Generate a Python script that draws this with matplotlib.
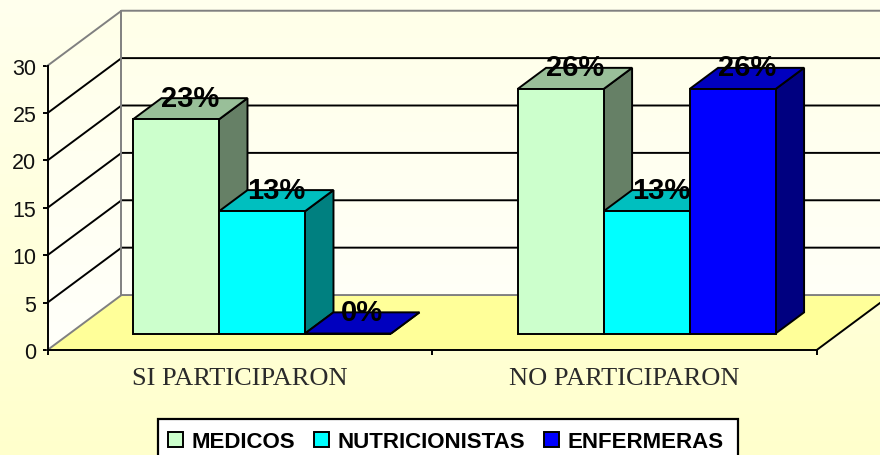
import matplotlib
matplotlib.use('Agg')
import matplotlib.pyplot as plt
import numpy as np
from matplotlib.patches import Patch, Polygon, Rectangle

categories = ['SI PARTICIPARON', 'NO PARTICIPARON']
series_names = ['MEDICOS', 'NUTRICIONISTAS', 'ENFERMERAS']
medicos = [22.6, 25.8]
nutricionistas = [12.9, 12.9]
enfermeras = [0, 25.8]
y_ticks = [0, 5, 10, 15, 20, 25, 30]

front_colors = ['#CCFFCC', '#00FFFF', '#0000FF']
top_colors = ['#99BF99', '#00BFBF', '#0000BF']
side_colors = ['#668066', '#008080', '#000080']

W, H = 880, 456
DEPTH_X = 0.1924   # wall depth, in category units
DEPTH_Y = 5.8      # wall depth, in value units
BAR_W = 0.2236
BAR_D0, BAR_D1 = 0.30, 0.685  # bar front and back, as share of depth
LW = 1.4

plt.rcParams['font.family'] = ['Liberation Sans', 'DejaVu Sans']


def pt(x, y, d):
    # x, y on the front plane pushed back by depth share d
    return (x + d * DEPTH_X, y + d * DEPTH_Y)


fig = plt.figure(figsize=(W / 100, H / 100), dpi=100)

# background gradients
bg = fig.add_axes([0, 0, 1, 1], zorder=0)
bg.axis('off')
grad = np.linspace(0, 1, 256)[:, None]
outer = np.dstack([np.ones((256, 1)), np.ones((256, 1)), (238 - 34 * grad) / 255])
bg.imshow(outer, aspect='auto', extent=(0, 1, 0, 1), origin='upper')
inner = np.dstack([np.ones((256, 1)), np.ones((256, 1)), (232 + 24 * grad) / 255])
wall_img = bg.imshow(inner, aspect='auto', extent=(0, 1, 0, 1), origin='upper')
bg.set_xlim(0, 1)
bg.set_ylim(0, 1)

ax = fig.add_axes([47.5 / W, (H - 351) / H, (816.7 - 47.5) / W, (351 - 66.7) / H], zorder=1)
ax.patch.set_visible(False)
ax.set_xlim(0, 2)
ax.set_ylim(0, 30)

ymax = y_ticks[-1]
walls = [pt(0, 0, 0), pt(0, ymax, 0), pt(0, ymax, 1), pt(2, ymax, 1), pt(2, 0, 1), pt(0, 0, 1)]
clip = Polygon(walls, transform=ax.transData)
wall_img.set_clip_path(clip)

# floor
ax.add_patch(Polygon([pt(0, 0, 0), pt(2, 0, 0), pt(2, 0, 1), pt(0, 0, 1)], fc='#FFFF99', ec='none',
                     clip_on=False, zorder=1))

# grid on both walls
for v in y_ticks[1:-1]:
    ax.plot(*zip(pt(0, v, 0), pt(0, v, 1), pt(2, v, 1)), color='black', lw=LW, clip_on=False, zorder=2)

# wall outline
gray = '#808080'
ax.plot(*zip(pt(0, 0, 0), pt(0, 0, 1), pt(2, 0, 1)), color=gray, lw=LW, clip_on=False, zorder=2)
ax.plot(*zip(pt(0, ymax, 0), pt(0, ymax, 1), pt(2, ymax, 1)), color=gray, lw=LW, clip_on=False, zorder=2)
ax.plot(*zip(pt(0, 0, 1), pt(0, ymax, 1)), color=gray, lw=LW, clip_on=False, zorder=2)
ax.plot(*zip(pt(2, 0, 0), pt(2, 0, 1)), color='black', lw=LW, clip_on=False, zorder=2)

# bars
for i, vals in enumerate([medicos, nutricionistas, enfermeras]):
    for c, v in enumerate(vals):
        x0 = c + 0.5 + (i - 1.5) * BAR_W
        x1 = x0 + BAR_W
        z = 3 + c + i * 0.1
        side = [pt(x1, 0, BAR_D0), pt(x1, v, BAR_D0), pt(x1, v, BAR_D1), pt(x1, 0, BAR_D1)]
        top = [pt(x0, v, BAR_D0), pt(x1, v, BAR_D0), pt(x1, v, BAR_D1), pt(x0, v, BAR_D1)]
        front = [pt(x0, 0, BAR_D0), pt(x1, 0, BAR_D0), pt(x1, v, BAR_D0), pt(x0, v, BAR_D0)]
        for poly, col in [(side, side_colors[i]), (top, top_colors[i]), (front, front_colors[i])]:
            ax.add_patch(Polygon(poly, fc=col, ec='black', lw=LW, joinstyle='miter', clip_on=False, zorder=z))
        cx, cy = pt((x0 + x1) / 2, v, (BAR_D0 + BAR_D1) / 2)
        ax.annotate(f'{v:.0f}%', (cx, cy), xytext=(0, 8.0), textcoords='offset points', ha='center',
                    va='center', fontsize=21, fontweight='bold', color='black', zorder=20,
                    annotation_clip=False)

# axes
for s in ['top', 'right']:
    ax.spines[s].set_visible(False)
for s in ['left', 'bottom']:
    ax.spines[s].set_linewidth(LW)
    ax.spines[s].set_zorder(10)
ax.set_yticks(y_ticks)
ax.tick_params(axis='y', labelsize=15.5, length=3.8, width=LW, pad=4.2, labelcolor='#111111')
ax.set_xticks([0, 1, 2])
ax.set_xticklabels([])
ax.tick_params(axis='x', which='major', length=3.8, width=LW)
ax.set_xticks([0.5, 1.5], minor=True)
ax.set_xticklabels(categories, minor=True, fontfamily='Liberation Serif', fontsize=19, color='#2a2a2a')
ax.tick_params(axis='x', which='minor', length=0, pad=12)

# legend box runs off the bottom edge of the picture
ax.add_patch(Rectangle((158 / W, -6 / H), 580 / W, 42 / H, transform=fig.transFigure, fc='white', ec='black',
                       lw=LW + 0.2, clip_on=False, zorder=29))
handles = [Patch(fc=c, ec='black', lw=LW) for c in front_colors]
leg = ax.legend(handles, series_names, ncol=3, loc='center left',
                bbox_to_anchor=(168 / W, (H - 443) / H), bbox_transform=fig.transFigure,
                prop={'size': 16, 'weight': 'bold'}, frameon=False, handlelength=0.66, handleheight=0.66,
                handletextpad=0.4, columnspacing=0.85, borderpad=0, borderaxespad=0)
leg.set_zorder(30)

fig.savefig('out.png', dpi=100)
